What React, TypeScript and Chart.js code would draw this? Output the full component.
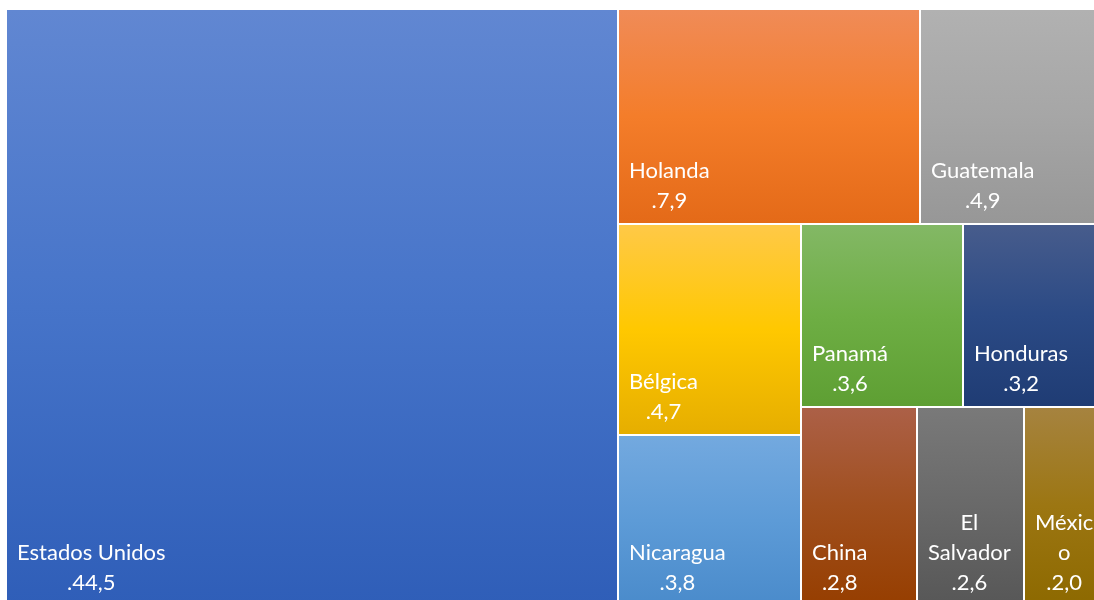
import React, { useEffect, useRef } from "react";
import { Chart, registerables } from "chart.js";

Chart.register(...registerables);

// ---- data ----
const categories = [
  "Estados Unidos",
  "Holanda",
  "Guatemala",
  "Bélgica",
  "Nicaragua",
  "Panamá",
  "Honduras",
  "China",
  "El Salvador",
  "México",
];
const values = [44.5, 7.9, 4.9, 4.7, 3.8, 3.6, 3.2, 2.8, 2.6, 2.0];

// gradient colours: top (light), middle (base), bottom (dark)
const topColors = ["#6187d2", "#f08b57", "#b1b1b1", "#ffc947", "#73a9df", "#83b865", "#475c8c", "#ac6047", "#797979", "#a6833f"];
const baseColors = ["#4674c9", "#f47d2a", "#a6a6a6", "#ffc800", "#5d9bd7", "#6eae44", "#2b4a85", "#a04f1e", "#696969", "#9c7612"];
const bottomColors = ["#2f5eb8", "#e46a18", "#979797", "#e6ae00", "#4a8bcb", "#5e9f33", "#1f3c74", "#963e00", "#575757", "#8d6900"];

const FONT_FAMILY = "Lato, 'Open Sans', sans-serif";
const FONT_SIZE = 22;
const LINE_HEIGHT = 30;
const PAD_LEFT = 10;
const PAD_RIGHT = 6;
const PAD_BOTTOM = 15;

function formatValue(v: number): string {
  return "." + v.toFixed(1).replace(".", ",");
}

type Rect = { x: number; y: number; w: number; h: number };

// squarified treemap layout computed with the physical aspect (W x H),
// returned in normalised 0..100 data units
function squarify(vals: number[], W: number, H: number): Rect[] {
  const n = vals.length;
  const total = vals.reduce((a, b) => a + b, 0);
  const scale = (W * H) / total;
  const rects: Rect[] = new Array(n);
  let x = 0, y = 0, w = W, h = H;
  let i = 0;
  while (i < n) {
    const remaining = n - i;
    if (remaining <= 3) {
      let off = 0;
      for (let j = i; j < n; j++) {
        const a = vals[j] * scale;
        if (w >= h) {
          const cw = a / h;
          rects[j] = { x: x + off, y, w: cw, h };
          off += cw;
        } else {
          const ch = a / w;
          rects[j] = { x, y: y + off, w, h: ch };
          off += ch;
        }
      }
      break;
    }
    const side = Math.min(w, h);
    const worst = (row: number[]) => {
      const s = row.reduce((a, b) => a + b, 0) * scale;
      const mx = Math.max(...row) * scale;
      const mn = Math.min(...row) * scale;
      return Math.max((side * side * mx) / (s * s), (s * s) / (side * side * mn));
    };
    const row = [vals[i]];
    let j = i + 1;
    while (j < n && worst([...row, vals[j]]) <= worst(row)) {
      row.push(vals[j]);
      j++;
    }
    const s = row.reduce((a, b) => a + b, 0) * scale;
    const thick = s / side;
    let off = 0;
    for (let k = i; k < j; k++) {
      const len = (vals[k] * scale) / thick;
      if (w >= h) rects[k] = { x, y: y + off, w: thick, h: len };
      else rects[k] = { x: x + off, y, w: len, h: thick };
      off += len;
    }
    if (w >= h) { x += thick; w -= thick; } else { y += thick; h -= thick; }
    i = j;
  }
  return rects.map((r) => ({ x: (r.x / W) * 100, y: (r.y / H) * 100, w: (r.w / W) * 100, h: (r.h / H) * 100 }));
}

function wrapText(ctx: CanvasRenderingContext2D, text: string, maxW: number): string[] {
  const words = text.split(" ");
  const lines: string[] = [];
  let cur = "";
  const pushWord = (word: string) => {
    if (ctx.measureText(word).width <= maxW) return [word];
    const parts: string[] = [];
    let p = "";
    for (const ch of word) {
      if (p && ctx.measureText(p + ch).width > maxW) { parts.push(p); p = ch; } else p += ch;
    }
    if (p) parts.push(p);
    return parts;
  };
  for (const word of words) {
    const test = cur ? cur + " " + word : word;
    if (ctx.measureText(test).width <= maxW) { cur = test; continue; }
    if (cur) lines.push(cur);
    const parts = pushWord(word);
    for (let k = 0; k < parts.length - 1; k++) lines.push(parts[k]);
    cur = parts[parts.length - 1];
  }
  if (cur) lines.push(cur);
  return lines;
}

const treemapPlugin = {
  id: "treemapCells",
  afterDatasetsDraw(chart: any) {
    const { ctx, chartArea, scales } = chart;
    const xs = scales.x, ys = scales.y;
    const rects = squarify(values, chartArea.width, chartArea.height);
    ctx.save();
    rects.forEach((r, idx) => {
      const x0 = xs.getPixelForValue(r.x);
      const x1 = xs.getPixelForValue(r.x + r.w);
      const y0 = ys.getPixelForValue(r.y);
      const y1 = ys.getPixelForValue(r.y + r.h);
      const left = Math.round(x0) + 1, right = Math.round(x1) - 1;
      const top = Math.round(y0) + 1, bottom = Math.round(y1) - 1;
      const g = ctx.createLinearGradient(0, top, 0, bottom);
      g.addColorStop(0, topColors[idx]);
      g.addColorStop(0.5, baseColors[idx]);
      g.addColorStop(1, bottomColors[idx]);
      ctx.fillStyle = g;
      ctx.fillRect(left, top, right - left, bottom - top);

      // label
      ctx.font = `${FONT_SIZE}px ${FONT_FAMILY}`;
      ctx.fillStyle = "#ffffff";
      ctx.textBaseline = "alphabetic";
      ctx.textAlign = "center";
      const maxW = right - left - PAD_LEFT - PAD_RIGHT;
      const lines = [...wrapText(ctx, categories[idx], maxW), formatValue(values[idx])];
      const blockW = Math.max(...lines.map((l) => ctx.measureText(l).width));
      const cx = left + PAD_LEFT + blockW / 2;
      lines.forEach((l, li) => {
        const by = bottom - PAD_BOTTOM - (lines.length - 1 - li) * LINE_HEIGHT;
        ctx.fillText(l, cx, by);
      });
    });
    ctx.restore();
  },
};

export default function App() {
  const ref = useRef<HTMLCanvasElement | null>(null);
  useEffect(() => {
    if (!ref.current) return;
    const chart = new Chart(ref.current, {
      type: "scatter",
      data: { datasets: [{ label: "Exportaciones", data: [], pointRadius: 0 }] },
      options: {
        animation: false,
        responsive: false,
        maintainAspectRatio: false,
        layout: { padding: { left: 6, top: 9, right: 3, bottom: 4 } },
        plugins: { legend: { display: false }, tooltip: { enabled: false } },
        scales: {
          x: { type: "linear", min: 0, max: 100, display: false },
          y: { type: "linear", min: 0, max: 100, reverse: true, display: false },
        },
      },
      plugins: [treemapPlugin],
    });
    return () => chart.destroy();
  }, []);
  return (
    <div style={{ position: "fixed", left: 0, top: 0, width: 1094, height: 600, overflow: "hidden", background: "#fff" }}>
      <canvas ref={ref} width={1110} height={610} style={{ display: "block", width: 1110, height: 610 }} />
    </div>
  );
}
